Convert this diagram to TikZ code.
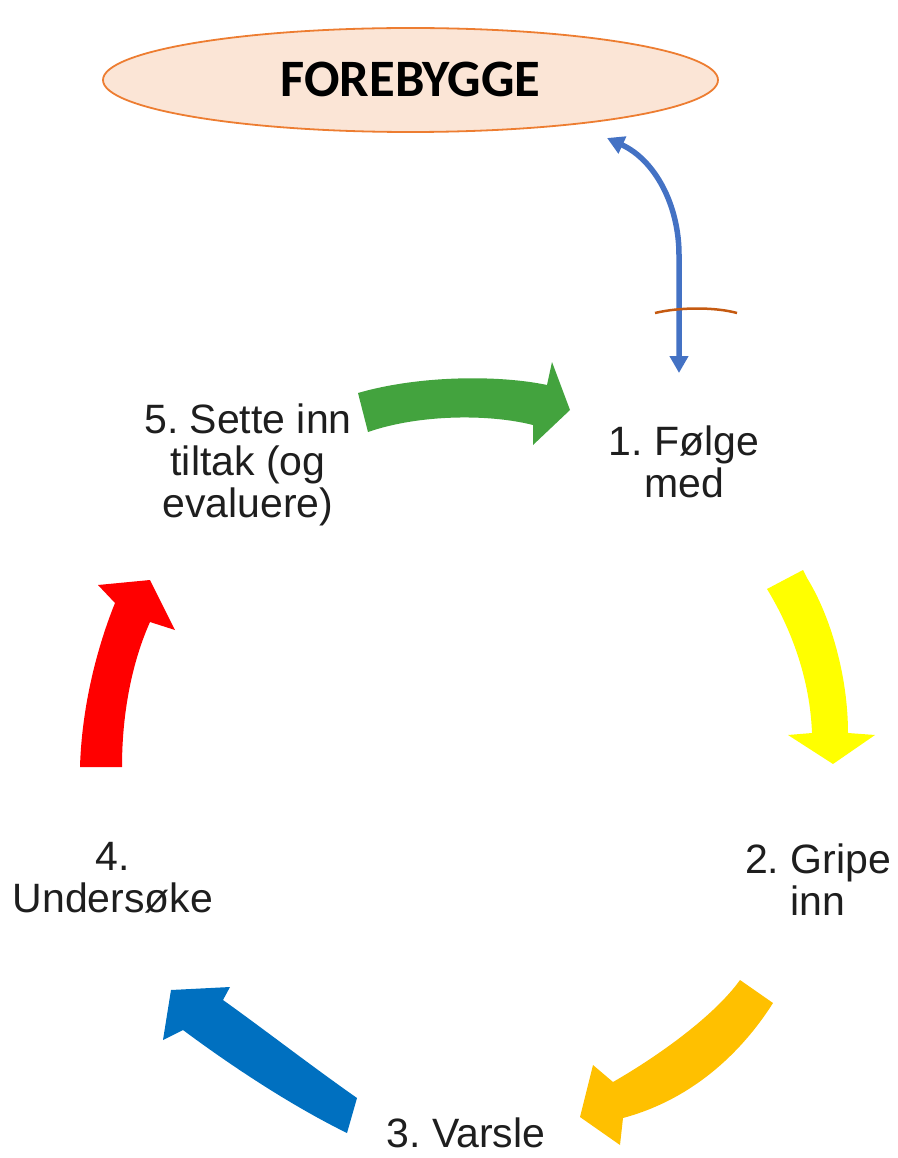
\documentclass[tikz,border=0pt]{standalone}
\usepackage{fontspec}
\setmainfont{Liberation Sans}
\newfontfamily\calib{Carlito}
\usepackage{graphicx}
\usetikzlibrary{shapes.geometric,arrows.meta}
\frenchspacing
\definecolor{txtgray}{RGB}{30,30,30}
\definecolor{forefill}{RGB}{251,229,214}
\definecolor{foredraw}{RGB}{237,125,49}
\definecolor{linkblue}{RGB}{68,114,196}
\definecolor{arcbrown}{RGB}{197,90,17}
\definecolor{cgreen}{RGB}{67,163,62}
\definecolor{cyellow}{RGB}{255,255,0}
\definecolor{corange}{RGB}{255,192,0}
\definecolor{cblue}{RGB}{0,112,192}
\definecolor{cred}{RGB}{255,0,0}
\newcommand{\stacklines}[1]{\begin{tabular}[t]{@{}c@{}}#1\end{tabular}}
\tikzset{
  steplabel/.style={anchor=base, inner sep=0pt, text=txtgray,
    font=\fontsize{41}{42}\selectfont\frenchspacing},
  link/.style={draw=linkblue, line width=5.5pt,
    {Triangle[length=17pt,width=18pt]}-{Triangle[length=17pt,width=18pt]}},
}
\begin{document}
\begin{tikzpicture}[x=1pt,y=-1pt]
\useasboundingbox (0,0) rectangle (897,1158);
% top ellipse
\node[ellipse, draw=foredraw, line width=1.8pt, fill=forefill,
      minimum width=615pt, minimum height=104pt, inner sep=0pt] (fore) at (410.5,80) {};
\node[inner sep=0pt, yshift=1pt] (foretext) at (fore.center)
  {\resizebox{260pt}{!}{\calib\bfseries FOREBYGGE}};

% labels
\node[steplabel] (s1) at (684,455) {\stacklines{1. Følge\\med}};
\node[steplabel] (s2) at (818,873) {\stacklines{2. Gripe\\inn}};
\node[steplabel] (s3) at (466,1147) {3. Varsle};
\node[steplabel] (s4) at (113,870) {\stacklines{4.\\Undersøke}};
\node[steplabel] (s5) at (248,433) {\stacklines{5. Sette inn\\tiltak (og\\evaluere)}};

% cycle arrows
\fill[cgreen] (358,393) .. controls (420,375) and (500,375) .. (547,385)
  -- (552,362) -- (570,410) -- (533,445) -- (533,425)
  .. controls (490,414) and (420,414) .. (368,432) -- cycle;
\fill[cyellow] (767,589) -- (803,570) -- (807,578)
  .. controls (830,615) and (848,675) .. (848,733)
  -- (875,735) -- (833,764) -- (788,735) -- (812,733)
  .. controls (810,680) and (792,630) .. (767,589) -- cycle;
\fill[corange] (740,980) -- (773,1003) .. controls (740,1055) and (690,1100) .. (623,1118)
  -- (620,1145) -- (580,1117) -- (593,1065) -- (613,1082)
  .. controls (660,1055) and (715,1015) .. (740,980) -- cycle;
\fill[cblue] (357,1098) -- (347,1133) .. controls (290,1105) and (230,1065) .. (183,1030)
  -- (163,1040) -- (171,990) -- (230,987) -- (223,1000)
  .. controls (265,1030) and (310,1065) .. (357,1098) -- cycle;
\fill[cred] (80,767) -- (122,767) .. controls (122,710) and (133,660) .. (150,622)
  -- (175,630) -- (150,580) -- (98,585) -- (115,603)
  .. controls (100,640) and (82,700) .. (80,767) -- cycle;

% link between FOREBYGGE and step 1
\coordinate (ltop) at (607,138);
\coordinate (lbot) at (679,373);
\draw[link] (ltop) .. controls (655,160) and (679,205) .. (679,255) -- (lbot);
\draw[arcbrown, line width=2.5pt] (655,313) .. controls (680,307) and (715,307) .. (737,313);
\end{tikzpicture}
\end{document}
